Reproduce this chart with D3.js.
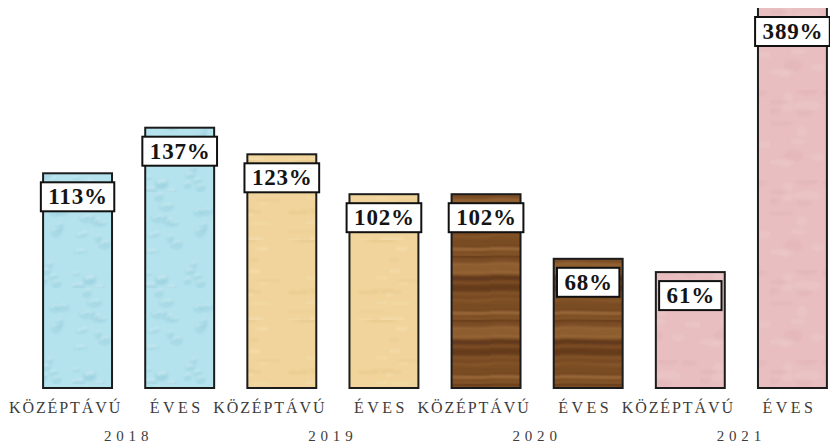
<!DOCTYPE html>
<html>
<head>
<meta charset="utf-8">
<script src="https://cdn.jsdelivr.net/npm/d3@7"></script>
<style>
  html, body { margin: 0; padding: 0; background: #ffffff; }
  svg { display: block; }
</style>
</head>
<body>
<svg id="chart" width="830" height="444"></svg>
<script>
// Ratios per year: medium-term vs. annual
const categories = ["KÖZÉPTÁVÚ", "ÉVES", "KÖZÉPTÁVÚ", "ÉVES", "KÖZÉPTÁVÚ", "ÉVES", "KÖZÉPTÁVÚ", "ÉVES"];
const years = ["2018", "2019", "2020", "2021"];
const values = [113, 137, 123, 102, 102, 68, 61, 389];
const textures = ["water", "water", "paper", "paper", "wood", "wood", "rose", "rose"];

const W = 830, H = 444;
const svg = d3.select("#chart");
const defs = svg.append("defs");

// small deterministic generator for texture speckles
function seeded(s) {
  return function () {
    s = (s * 1664525 + 1013904223) % 4294967296;
    return s / 4294967296;
  };
}

const soft = defs.append("filter").attr("id", "soft")
  .attr("x", "-20%").attr("y", "-20%").attr("width", "140%").attr("height", "140%");
soft.append("feGaussianBlur").attr("stdDeviation", 1.1);

// --- water-drop texture ---
(function () {
  const p = defs.append("pattern").attr("id", "tex-water")
    .attr("patternUnits", "userSpaceOnUse").attr("width", 72).attr("height", 96);
  p.append("rect").attr("width", 72).attr("height", 96).attr("fill", "#b5e3ed");
  const g = p.append("g").attr("filter", "url(#soft)");
  const r = seeded(7);
  for (let i = 0; i < 24; i++) {
    const cx = r() * 72, cy = r() * 96, rx = 3 + r() * 6, ry = 2 + r() * 4;
    g.append("ellipse").attr("cx", cx).attr("cy", cy).attr("rx", rx).attr("ry", ry)
      .attr("fill", "#93cedd").attr("opacity", 0.4);
    g.append("path")
      .attr("d", `M${cx - rx * 0.7},${cy - ry * 0.2} q${rx * 0.7},${-ry * 0.9} ${rx * 1.3},${-ry * 0.3}`)
      .attr("stroke", "#e8f8fb").attr("stroke-width", 1.2).attr("fill", "none").attr("opacity", 0.7);
  }
})();

// --- parchment texture ---
(function () {
  const p = defs.append("pattern").attr("id", "tex-paper")
    .attr("patternUnits", "userSpaceOnUse").attr("width", 70).attr("height", 80);
  p.append("rect").attr("width", 70).attr("height", 80).attr("fill", "#f0d49b");
  const g = p.append("g").attr("filter", "url(#soft)");
  const r = seeded(19);
  for (let i = 0; i < 18; i++) {
    g.append("rect").attr("x", r() * 60).attr("y", r() * 80)
      .attr("width", 6 + r() * 25).attr("height", 1 + r() * 2)
      .attr("fill", r() > 0.5 ? "#f7e3b6" : "#e4c68a").attr("opacity", 0.6);
  }
})();

// --- wood-grain texture ---
(function () {
  const p = defs.append("pattern").attr("id", "tex-wood")
    .attr("patternUnits", "userSpaceOnUse").attr("width", 70).attr("height", 64);
  p.append("rect").attr("width", 70).attr("height", 64).attr("fill", "#74461f");
  const g = p.append("g").attr("filter", "url(#soft)");
  const r = seeded(31);
  const tones = ["#5e3719", "#8d5b2d", "#9a6836", "#55301a", "#83532a", "#a87542"];
  let yy = 0;
  while (yy < 64) {
    const h = 1 + r() * 3;
    const c = tones[Math.floor(r() * tones.length)];
    const a = 4 + r() * 4;
    g.append("path")
      .attr("d", `M-4,${yy} C20,${yy - a * 0.3} 45,${yy + a * 0.3} 74,${yy} L74,${yy + h} C45,${yy + h + a * 0.3} 20,${yy + h - a * 0.3} -4,${yy + h} Z`)
      .attr("fill", c).attr("opacity", 0.5 + r() * 0.3);
    yy += h + r() * 3;
  }
})();

// --- rose marble texture ---
(function () {
  const p = defs.append("pattern").attr("id", "tex-rose")
    .attr("patternUnits", "userSpaceOnUse").attr("width", 70).attr("height", 90);
  p.append("rect").attr("width", 70).attr("height", 90).attr("fill", "#e8bec0");
  const g = p.append("g").attr("filter", "url(#soft)");
  const r = seeded(53);
  for (let i = 0; i < 16; i++) {
    g.append("ellipse").attr("cx", r() * 70).attr("cy", r() * 90)
      .attr("rx", 4 + r() * 10).attr("ry", 2 + r() * 5)
      .attr("fill", r() > 0.5 ? "#efcdce" : "#e0b1b3").attr("opacity", 0.35);
  }
})();

// --- scales ---
const baseY = 388, topY = 8;
const x = d3.scaleBand()
  .domain(d3.range(values.length))
  .range([26.5, 843.5])
  .paddingInner(0.325)
  .paddingOuter(0.1625);
const y = d3.scaleLinear().domain([0, 200]).range([baseY, topY]);

defs.append("clipPath").attr("id", "plot-clip")
  .append("rect").attr("x", 0).attr("y", topY).attr("width", W).attr("height", baseY - topY + 3);

// --- bars ---
const bars = svg.append("g").attr("clip-path", "url(#plot-clip)");
bars.selectAll("rect.bar")
  .data(values)
  .join("rect")
  .attr("class", "bar")
  .attr("x", (d, i) => x(i))
  .attr("y", d => y(d))
  .attr("width", x.bandwidth())
  .attr("height", d => baseY - y(d))
  .attr("fill", (d, i) => `url(#tex-${textures[i]})`)
  .attr("stroke", "#1c1c1c")
  .attr("stroke-width", 2);

// --- value labels in boxed tags near the top of each bar ---
const labels = svg.append("g");
values.forEach((v, i) => {
  const top = Math.max(y(v), topY);
  const cx = x(i) + x.bandwidth() / 2;
  const g = labels.append("g");
  const rect = g.append("rect");
  const t = g.append("text")
    .attr("x", cx + 0.5)
    .attr("y", top + 9 + 22)
    .attr("text-anchor", "middle")
    .attr("font-family", "'Liberation Serif', 'Times New Roman', serif")
    .attr("font-weight", "bold")
    .attr("font-size", 23)
    .attr("letter-spacing", 0.8)
    .attr("fill", "#141414")
    .text(v + "%");
  const tw = t.node().getComputedTextLength();
  const bw = tw + 14;
  rect.attr("x", cx - bw / 2)
    .attr("y", top + 9)
    .attr("width", bw)
    .attr("height", 29)
    .attr("fill", "#ffffff")
    .attr("stroke", "#111111")
    .attr("stroke-width", 2);
});

// --- category and year labels ---
const axis = svg.append("g")
  .attr("font-family", "'Liberation Serif', 'Times New Roman', serif")
  .attr("fill", "#3c3c3c");

axis.selectAll("text.cat")
  .data(categories)
  .join("text")
  .attr("class", "cat")
  .attr("x", (d, i) => x(i) + x.bandwidth() / 2 + (d.length > 5 ? -12 : -3))
  .attr("y", 413)
  .attr("text-anchor", "middle")
  .attr("font-size", 16)
  .attr("letter-spacing", d => d.length > 5 ? 1.9 : 3.5)
  .text(d => d);

axis.selectAll("text.year")
  .data(years)
  .join("text")
  .attr("class", "year")
  .attr("x", (d, i) => (x(2 * i) + x(2 * i + 1) + x.bandwidth()) / 2)
  .attr("y", 441)
  .attr("text-anchor", "middle")
  .attr("font-size", 15)
  .attr("letter-spacing", 4.8)
  .text(d => d);
</script>
</body>
</html>
